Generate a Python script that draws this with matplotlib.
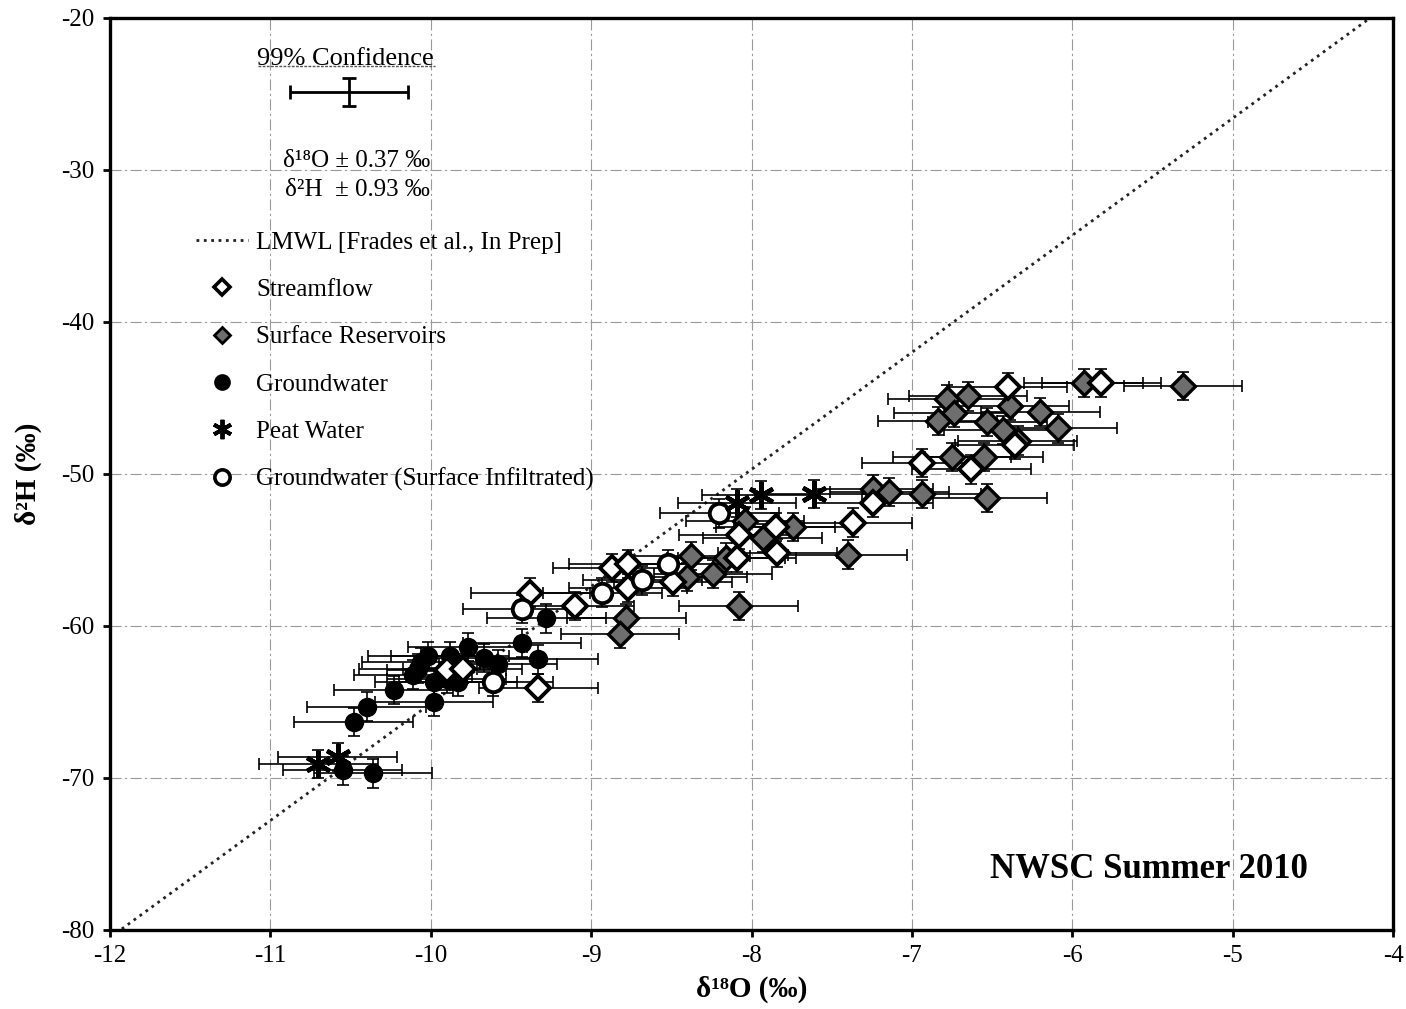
import numpy as np
import matplotlib.pyplot as plt
from matplotlib.lines import Line2D

plt.rcParams['font.family'] = ['Liberation Serif', 'DejaVu Serif']
plt.rcParams['axes.unicode_minus'] = False

# isotope samples, delta-18O / delta-2H (permil)
stream_o = [-6.40, -5.82, -6.36, -6.94, -6.63, -7.24, -7.37, -7.85, -7.84, -8.09,
            -8.08, -9.38, -9.10, -8.87, -8.77, -8.77, -8.49, -9.90, -9.80, -9.33]
stream_h = [-44.3, -44.0, -48.1, -49.3, -49.7, -51.9, -53.2, -53.5, -55.2, -55.5,
            -54.0, -57.8, -58.7, -56.2, -55.9, -57.5, -57.1, -62.9, -62.8, -64.1]

res_o = [-5.93, -5.31, -6.78, -6.65, -6.39, -6.20, -6.74, -6.84, -6.53, -6.43,
         -6.34, -6.09, -6.75, -6.55, -7.24, -7.14, -6.94, -6.53, -7.74, -7.93,
         -8.04, -8.16, -8.24, -8.38, -8.40, -7.40, -8.08, -8.78, -8.82]
res_h = [-44.0, -44.2, -45.1, -44.9, -45.5, -45.9, -46.0, -46.5, -46.6, -47.1,
         -47.8, -47.0, -48.9, -48.9, -51.0, -51.2, -51.3, -51.6, -53.5, -54.2,
         -53.1, -55.5, -56.6, -55.4, -56.8, -55.3, -58.7, -59.5, -60.5]

gw_o = [-9.28, -9.43, -9.33, -9.77, -9.88, -9.67, -9.58, -10.06, -10.11, -9.98,
        -9.90, -9.83, -9.98, -10.23, -10.40, -10.48, -10.55, -10.36, -10.08, -10.02]
gw_h = [-59.5, -61.1, -62.2, -61.4, -62.0, -62.1, -62.5, -62.4, -63.2, -63.7,
        -63.5, -63.7, -65.0, -64.2, -65.3, -66.3, -69.5, -69.7, -62.8, -62.0]

peat_o = [-10.70, -10.58, -7.94, -7.61, -8.09]
peat_h = [-69.1, -68.6, -51.4, -51.3, -51.9]

infil_o = [-9.43, -8.93, -8.68, -8.52, -8.20, -9.61]
infil_h = [-58.9, -57.8, -57.0, -55.9, -52.6, -63.7]

# 99% confidence on each measurement
err_o = 0.37
err_h = 0.93

# local meteoric water line
lmwl_slope = 7.7
lmwl_icpt = 11.9

fig = plt.figure(figsize=(14.06, 10.09), dpi=100)
ax = fig.add_axes([0.0782, 0.0783, 0.9126, 0.9039])
ax.set_xlim(-12, -4)
ax.set_ylim(-80, -20)
ax.set_xticks(np.arange(-12, -3, 1))
ax.set_yticks(np.arange(-80, -19, 10))
ax.grid(True, color='#9a9a9a', lw=0.8, ls=(0, (10, 3, 2, 3)))
ax.set_axisbelow(True)
for s in ax.spines.values():
    s.set_linewidth(2.4)
ax.tick_params(direction='out', length=5, width=2, labelsize=18, pad=6)

xl = np.linspace(-12, -4, 50)
ax.plot(xl, lmwl_slope * xl + lmwl_icpt, ls=':', color='#222222', lw=2.0, zorder=2)

all_o = stream_o + res_o + gw_o + peat_o + infil_o
all_h = stream_h + res_h + gw_h + peat_h + infil_h
ax.errorbar(all_o, all_h, xerr=err_o, yerr=err_h, fmt='none', ecolor='black',
            elinewidth=1.2, capsize=4, capthick=1.2, zorder=3)

ax.plot(gw_o, gw_h, 'o', ms=13, mfc='black', mec='black', zorder=4)
ax.plot(res_o, res_h, 'D', ms=12.5, mfc='#6e6e6e', mec='black', mew=2.4, zorder=5)
ax.plot(stream_o, stream_h, 'D', ms=12.5, mfc='white', mec='black', mew=2.8, zorder=5)
ax.plot(infil_o, infil_h, 'o', ms=14, mfc='white', mec='black', mew=2.8, zorder=5)
ax.plot(peat_o, peat_h, marker=(6, 2, 0), ls='', ms=19, mec='black', mew=3.2, zorder=6)

# confidence key
ax.errorbar([-10.51], [-24.87], xerr=err_o, yerr=err_h, fmt='none', ecolor='black',
            elinewidth=2, capsize=5, capthick=2, zorder=3)
ax.text(-10.53, -22.7, '99% Confidence', ha='center', va='center', fontsize=19)
ax.add_line(Line2D([0.1154, 0.2533], [0.947, 0.947], transform=ax.transAxes,
                   color='#555555', lw=1.0, ls=(0, (2, 1))))
ax.text(-10.46, -29.4, 'δ\u00b9\u2078O ± 0.37 ‰', ha='center', va='center', fontsize=18)
ax.text(-10.46, -31.35, 'δ\u00b2H  ± 0.93 ‰', ha='center', va='center', fontsize=18)

handles = [
    Line2D([], [], ls=':', color='#222222', lw=2.0),
    Line2D([], [], marker='D', ls='', ms=8.5, mfc='white', mec='black', mew=2.6),
    Line2D([], [], marker='D', ls='', ms=8.5, mfc='#6e6e6e', mec='black', mew=2.0),
    Line2D([], [], marker='o', ls='', ms=11, mfc='black', mec='black'),
    Line2D([], [], marker=(6, 2, 0), ls='', ms=14, mec='black', mew=2.8),
    Line2D([], [], marker='o', ls='', ms=11, mfc='white', mec='black', mew=2.6),
]
labels = ['LMWL [Frades et al., In Prep]', 'Streamflow', 'Surface Reservoirs',
          'Groundwater', 'Peat Water', 'Groundwater (Surface Infiltrated)']
ax.legend(handles, labels, loc='upper left', bbox_to_anchor=(0.067, 0.766),
          frameon=False, fontsize=18, handlelength=2.1, handletextpad=0.32,
          labelspacing=0.99, borderpad=0, borderaxespad=0)

ax.text(-5.52, -76.0, 'NWSC Summer 2010', ha='center', va='center',
        fontsize=25, fontweight='bold')

ax.set_xlabel('δ\u00b9\u2078O (‰)', fontsize=21, fontweight='bold', labelpad=6)
ax.set_ylabel('δ\u00b2H (‰)', fontsize=21, fontweight='bold', labelpad=14)

fig.savefig('out.png', dpi=100)
